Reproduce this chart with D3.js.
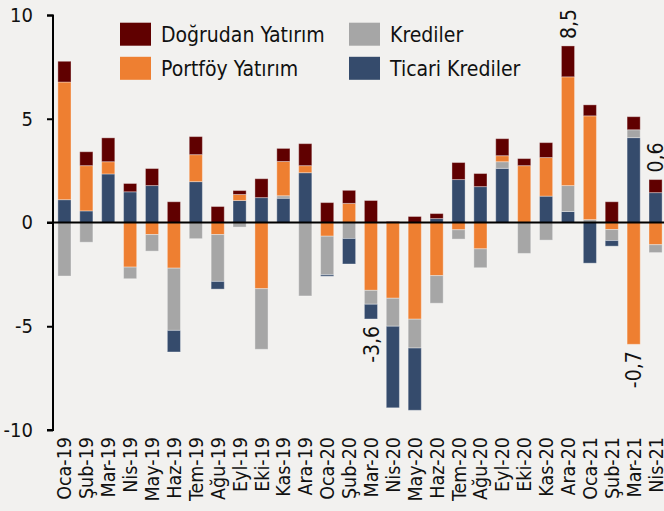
<!DOCTYPE html>
<html>
<head>
<meta charset="utf-8">
<script src="https://cdn.jsdelivr.net/npm/d3@7"></script>
<style>
  html, body { margin: 0; padding: 0; background: #f2f1ef; }
  svg { display: block; }
  text { font-family: "DejaVu Sans Condensed", "DejaVu Sans", sans-serif; font-stretch: condensed; fill: #111; }
</style>
</head>
<body>
<script>
const months = ["Oca-19","Şub-19","Mar-19","Nis-19","May-19","Haz-19","Tem-19","Ağu-19","Eyl-19","Eki-19","Kas-19","Ara-19",
  "Oca-20","Şub-20","Mar-20","Nis-20","May-20","Haz-20","Tem-20","Ağu-20","Eyl-20","Eki-20","Kas-20","Ara-20",
  "Oca-21","Şub-21","Mar-21","Nis-21"];
const seriesNames = ["Doğrudan Yatırım","Portföy Yatırım","Krediler","Ticari Krediler"];
const dogrudan = [1.0,0.67,1.15,0.4,0.82,1.0,0.87,0.77,0.19,0.91,0.63,1.06,0.96,0.63,1.06,0.05,0.29,0.24,0.82,0.63,0.82,0.34,0.72,1.49,0.53,1.0,0.63,0.63];
const portfoy  = [5.67,2.18,0.59,-2.15,-0.58,-2.2,1.3,-0.58,0.29,-3.19,1.65,0.34,-0.66,0.92,-3.27,-3.65,-4.66,-2.56,-0.35,-1.27,0.29,2.74,1.86,5.24,5.0,-0.34,-5.87,-1.07];
const krediler = [-2.58,-0.95,0,-0.56,-0.8,-3.0,-0.78,-2.26,-0.22,-2.92,0.12,-3.54,-1.86,-0.77,-0.67,-1.35,-1.39,-1.33,-0.45,-0.91,0.32,-1.49,-0.85,1.25,0.14,-0.53,0.38,-0.38];
const ticari   = [1.1,0.56,2.34,1.48,1.78,-1.04,1.97,-0.37,1.06,1.2,1.17,2.4,-0.07,-1.23,-0.71,-3.93,-3.0,0.19,2.07,1.73,2.61,0,1.27,0.53,-1.96,-0.27,4.09,1.44];
const yTicks = [10,5,0,-5,-10];
const yTickLabels = ["10","5","0","-5","-10"];
const labelledTotals = [{m:"Mar-20", t:"-3,6"},{m:"Ara-20", t:"8,5"},{m:"Mar-21", t:"-0,7"},{m:"Nis-21", t:"0,6"}];
const colors = {"Doğrudan Yatırım":"#600000","Portföy Yatırım":"#ee7f31","Krediler":"#a6a6a6","Ticari Krediler":"#354b6c"};

const W = 664, H = 511;
const svg = d3.select("body").append("svg").attr("width", W).attr("height", H);

const x = d3.scaleBand().domain(months).range([53.5, 666.5]).paddingInner(0.4).paddingOuter(0.2);
const y = d3.scaleLinear().domain([-10, 10]).range([430, 15]);

const values = {"Doğrudan Yatırım":dogrudan,"Portföy Yatırım":portfoy,"Krediler":krediler,"Ticari Krediler":ticari};
const posOrder = ["Ticari Krediler","Krediler","Portföy Yatırım","Doğrudan Yatırım"];
const negOrder = ["Portföy Yatırım","Krediler","Ticari Krediler","Doğrudan Yatırım"];

const segs = [];
const tops = [], bottoms = [];
months.forEach((m, i) => {
  let p = 0;
  posOrder.forEach(s => { const v = values[s][i]; if (v > 0) { segs.push({m, s, y0: p, y1: p + v}); p += v; } });
  let n = 0;
  negOrder.forEach(s => { const v = values[s][i]; if (v < 0) { segs.push({m, s, y0: n + v, y1: n}); n += v; } });
  tops.push(p); bottoms.push(n);
});

svg.append("g").selectAll("rect").data(segs).join("rect")
  .attr("x", d => x(d.m))
  .attr("width", x.bandwidth())
  .attr("y", d => y(d.y1))
  .attr("height", d => Math.max(0, y(d.y0) - y(d.y1)))
  .attr("fill", d => colors[d.s])
  .attr("stroke", "rgba(255,255,255,0.35)")
  .attr("stroke-width", 1);

// Y axis
const yAxis = d3.axisLeft(y).tickValues(yTicks).tickSize(6).tickPadding(14)
  .tickFormat((d, i) => yTickLabels[i]);
const gy = svg.append("g").attr("transform", "translate(53,0)").call(yAxis);
gy.select(".domain").attr("stroke", "#000").attr("stroke-width", 2).attr("d", "M-6,15.5H0V430H-6");
gy.selectAll(".tick line").attr("stroke", "#000").attr("stroke-width", 2);
gy.selectAll(".tick text").style("font-size", "20px").attr("fill", "#111")
  .style("font-family", "'DejaVu Sans Condensed','DejaVu Sans',sans-serif");

// zero line
svg.append("line").attr("x1", 47).attr("x2", W).attr("y1", y(0)).attr("y2", y(0))
  .attr("stroke", "#000").attr("stroke-width", 2);

// X labels
svg.append("g").selectAll("text").data(months).join("text")
  .attr("transform", d => `translate(${x(d) + x.bandwidth()/2},437) rotate(-90)`)
  .attr("text-anchor", "end")
  .attr("dy", "0.36em")
  .style("font-size", "19.5px")
  .text(d => d);

// value labels
svg.append("g").selectAll("text").data(labelledTotals).join("text")
  .each(function(d) {
    const i = months.indexOf(d.m);
    const total = dogrudan[i] + portfoy[i] + krediler[i] + ticari[i];
    const cx = x(d.m) + x.bandwidth()/2;
    const sel = d3.select(this).style("font-size", "21px").attr("dy", "0.36em");
    if (total >= 0) {
      sel.attr("transform", `translate(${cx},${y(tops[i]) - 7}) rotate(-90)`).attr("text-anchor", "start");
    } else {
      sel.attr("transform", `translate(${cx},${y(bottoms[i]) + 7}) rotate(-90)`).attr("text-anchor", "end");
    }
  })
  .text(d => d.t);

// Legend
const legendItems = [
  {s:"Doğrudan Yatırım", lx:120, ly:22.7},
  {s:"Portföy Yatırım", lx:120, ly:56.8},
  {s:"Krediler", lx:349, ly:22.7},
  {s:"Ticari Krediler", lx:349, ly:56.8}
];
const lg = svg.append("g");
legendItems.forEach(it => {
  lg.append("rect").attr("x", it.lx).attr("y", it.ly).attr("width", 31).attr("height", 23).attr("fill", colors[it.s]);
  lg.append("text").attr("x", it.lx + 41).attr("y", it.ly + 11.5).attr("dy", "0.36em")
    .style("font-size", "21px").text(it.s);
});
</script>
</body>
</html>
